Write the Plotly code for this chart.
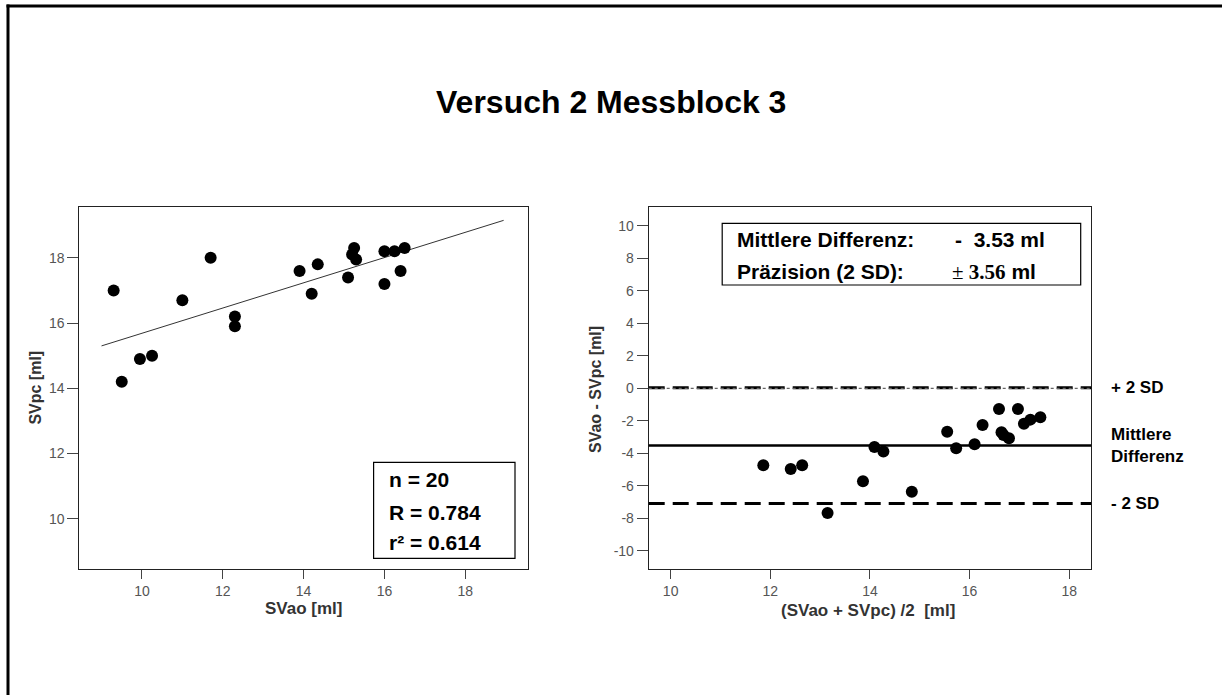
import plotly.graph_objects as go

# ---------------- data ----------------
sv_ao = [9.3, 9.5, 9.95, 10.25, 11.0, 11.7, 12.3, 12.3, 13.9, 14.2,
         14.35, 15.1, 15.25, 15.2, 15.3, 16.0, 16.0, 16.25, 16.4, 16.5]
sv_pc = [17.0, 14.2, 14.9, 15.0, 16.7, 18.0, 16.2, 15.9, 17.6, 16.9,
         17.8, 17.4, 18.3, 18.1, 17.95, 17.2, 18.2, 18.2, 17.6, 18.3]

fit_x = [9.0, 18.95]
fit_y = [15.3, 19.15]

ba_mean = [11.86, 12.41, 12.64, 13.15, 13.86, 14.09, 14.27, 14.84, 15.55, 15.73,
           16.10, 16.26, 16.59, 16.64, 16.68, 16.79, 16.97, 17.09, 17.22, 17.42]
ba_diff = [-4.74, -4.97, -4.74, -7.68, -5.73, -3.61, -3.90, -6.37, -2.67, -3.70,
           -3.45, -2.26, -1.27, -2.71, -2.87, -3.08, -1.27, -2.18, -1.93, -1.79]

mean_diff = -3.53
two_sd = 3.56
upper_sd = round(mean_diff + two_sd, 2)
lower_sd = round(mean_diff - two_sd, 2)

left_ticks = [10, 12, 14, 16, 18]
right_xticks = [10, 12, 14, 16, 18]
right_yticks = [-10, -8, -6, -4, -2, 0, 2, 4, 6, 8, 10]
right_yticktext = ["-10", "-8", "-6", "-4", "-2", "0", "2", "4", "6", "8", "10"]

title_text = "Versuch 2 Messblock 3"
stats_left = ["n = 20", "R = 0.784", "r² = 0.614"]

# ---------------- layout helpers ----------------
W, H = 1222, 695
def px(x):
    return x / W
def py(y):
    return 1 - y / H

FONT = "Liberation Sans, Arial, sans-serif"
SERIF = "Liberation Serif, Times New Roman, serif"

fig = go.Figure()

# left: scatter with regression line
fig.add_trace(go.Scatter(x=fit_x, y=fit_y, mode="lines",
                         line=dict(color="#333333", width=1),
                         xaxis="x", yaxis="y", hoverinfo="skip"))
fig.add_trace(go.Scatter(x=sv_ao, y=sv_pc, mode="markers",
                         marker=dict(color="black", size=12, line=dict(width=0)),
                         xaxis="x", yaxis="y"))

# right: Bland-Altman
fig.add_trace(go.Scatter(x=ba_mean, y=ba_diff, mode="markers",
                         marker=dict(color="black", size=12, line=dict(width=0)),
                         xaxis="x2", yaxis="y2"))

shapes = []
# +2 SD
shapes.append(dict(type="line", xref="x2 domain", x0=0, x1=1, yref="y2", y0=upper_sd, y1=upper_sd,
                   line=dict(color="black", width=3, dash="16px,8px")))
# zero dotted line
shapes.append(dict(type="line", xref="x2 domain", x0=0, x1=1, yref="y2", y0=0, y1=0,
                   line=dict(color="#666666", width=1.2, dash="dot")))
# mean
shapes.append(dict(type="line", xref="x2 domain", x0=0, x1=1, yref="y2", y0=mean_diff, y1=mean_diff,
                   line=dict(color="black", width=2.5)))
# -2 SD
shapes.append(dict(type="line", xref="x2 domain", x0=0, x1=1, yref="y2", y0=lower_sd, y1=lower_sd,
                   line=dict(color="black", width=3, dash="16px,8px")))

# stat boxes
shapes.append(dict(type="rect", xref="paper", yref="paper",
                   x0=px(373.6), x1=px(515), y0=py(558.3), y1=py(462.3),
                   line=dict(color="black", width=1.2), fillcolor="white", layer="below"))
shapes.append(dict(type="rect", xref="paper", yref="paper",
                   x0=px(722.2), x1=px(1080.7), y0=py(285), y1=py(223.3),
                   line=dict(color="black", width=1.2), fillcolor="white", layer="below"))

# outer border (top and left edges visible)
shapes.append(dict(type="line", xref="paper", yref="paper",
                   x0=px(6.5), x1=1.0, y0=py(6), y1=py(6),
                   line=dict(color="black", width=3)))
shapes.append(dict(type="line", xref="paper", yref="paper",
                   x0=px(8), x1=px(8), y0=0.0, y1=py(4.5),
                   line=dict(color="black", width=3)))

ann = []
ann.append(dict(text="<b>%s</b>" % title_text, xref="paper", yref="paper",
                x=px(611), y=py(101.7), xanchor="center", yanchor="middle",
                showarrow=False, font=dict(family=FONT, size=32, color="black")))

for txt, yy in zip(stats_left, [479, 512.3, 542.7]):
    ann.append(dict(text="<b>%s</b>" % txt, xref="paper", yref="paper",
                    x=px(386.8), y=py(yy), xanchor="left", yanchor="middle",
                    showarrow=False, font=dict(family=FONT, size=21, color="black")))

ann.append(dict(text="<b>Mittlere Differenz:</b>", xref="paper", yref="paper",
                x=px(735), y=py(239.3), xanchor="left", yanchor="middle",
                showarrow=False, font=dict(family=FONT, size=21, color="black")))
ann.append(dict(text="<b>Präzision (2 SD):</b>", xref="paper", yref="paper",
                x=px(735), y=py(271.7), xanchor="left", yanchor="middle",
                showarrow=False, font=dict(family=FONT, size=21, color="black")))
ann.append(dict(text="<b>-  %.2f ml</b>" % abs(mean_diff), xref="paper", yref="paper",
                x=px(953), y=py(239.3), xanchor="left", yanchor="middle",
                showarrow=False, font=dict(family=FONT, size=21, color="black")))
ann.append(dict(text='<span style="font-family:%s">± <b>%.2f</b></span> <b>ml</b>' % (SERIF, two_sd),
                xref="paper", yref="paper",
                x=px(950), y=py(271.7), xanchor="left", yanchor="middle",
                showarrow=False, font=dict(family=FONT, size=21, color="black")))

# right-hand line labels
ann.append(dict(text="<b>+ 2 SD</b>", xref="paper", yref="y2", x=px(1109), y=upper_sd,
                xanchor="left", yanchor="middle", showarrow=False,
                font=dict(family=FONT, size=17, color="black")))
ann.append(dict(text="<b>Mittlere<br>Differenz</b>", xref="paper", yref="y2", x=px(1109), y=mean_diff,
                xanchor="left", yanchor="middle", showarrow=False, align="left",
                font=dict(family=FONT, size=17, color="black")))
ann.append(dict(text="<b>- 2 SD</b>", xref="paper", yref="y2", x=px(1109), y=lower_sd,
                xanchor="left", yanchor="middle", showarrow=False,
                font=dict(family=FONT, size=17, color="black")))

# axis titles
TCOL = "#333333"
ann.append(dict(text="<b>SVao [ml]</b>", xref="paper", yref="paper", x=px(303.6), y=py(608.3),
                xanchor="center", yanchor="middle", showarrow=False,
                font=dict(family=FONT, size=17, color=TCOL)))
ann.append(dict(text="<b>SVpc [ml]</b>", xref="paper", yref="paper", x=px(34.6), y=py(388),
                xanchor="center", yanchor="middle", showarrow=False, textangle=-90,
                font=dict(family=FONT, size=16, color=TCOL)))
ann.append(dict(text="<b>SVao - SVpc [ml]</b>", xref="paper", yref="paper", x=px(596), y=py(390),
                xanchor="center", yanchor="middle", showarrow=False, textangle=-90,
                font=dict(family=FONT, size=16, color=TCOL)))
ann.append(dict(text="<b>(SVao + SVpc) /2 &nbsp;[ml]</b>", xref="paper", yref="paper", x=px(868), y=py(610.7),
                xanchor="center", yanchor="middle", showarrow=False,
                font=dict(family=FONT, size=17, color=TCOL)))

axis_common = dict(showgrid=False, zeroline=False, showline=True, mirror=True,
                   linecolor="#222222", linewidth=1, ticks="outside",
                   tickcolor="#444444", tickwidth=1, automargin=False,
                   tickfont=dict(family=FONT, size=14, color="#555555"))

fig.update_layout(
    template="none",
    width=W, height=H, autosize=False,
    margin=dict(l=0, r=0, t=0, b=0),
    paper_bgcolor="white", plot_bgcolor="white",
    showlegend=False,
    font=dict(family=FONT),
    xaxis=dict(domain=[px(79.3), px(527.9)], range=[8.45, 19.55], anchor="y",
               tickmode="array", tickvals=left_ticks, ticklen=9, **axis_common),
    yaxis=dict(domain=[py(569.3), py(207.3)], range=[8.45, 19.55], anchor="x",
               tickmode="array", tickvals=left_ticks, ticklen=11, **axis_common),
    xaxis2=dict(domain=[px(648.7), px(1091.2)], range=[9.56, 18.44], anchor="y2",
                tickmode="array", tickvals=right_xticks, ticklen=9, **axis_common),
    yaxis2=dict(domain=[py(569.3), py(207.3)], range=[-11.15, 11.15], anchor="x2",
                tickmode="array", tickvals=right_yticks, ticktext=right_yticktext,
                ticklen=11, **axis_common),
    shapes=shapes,
    annotations=ann,
)

fig.write_html("out.html")
